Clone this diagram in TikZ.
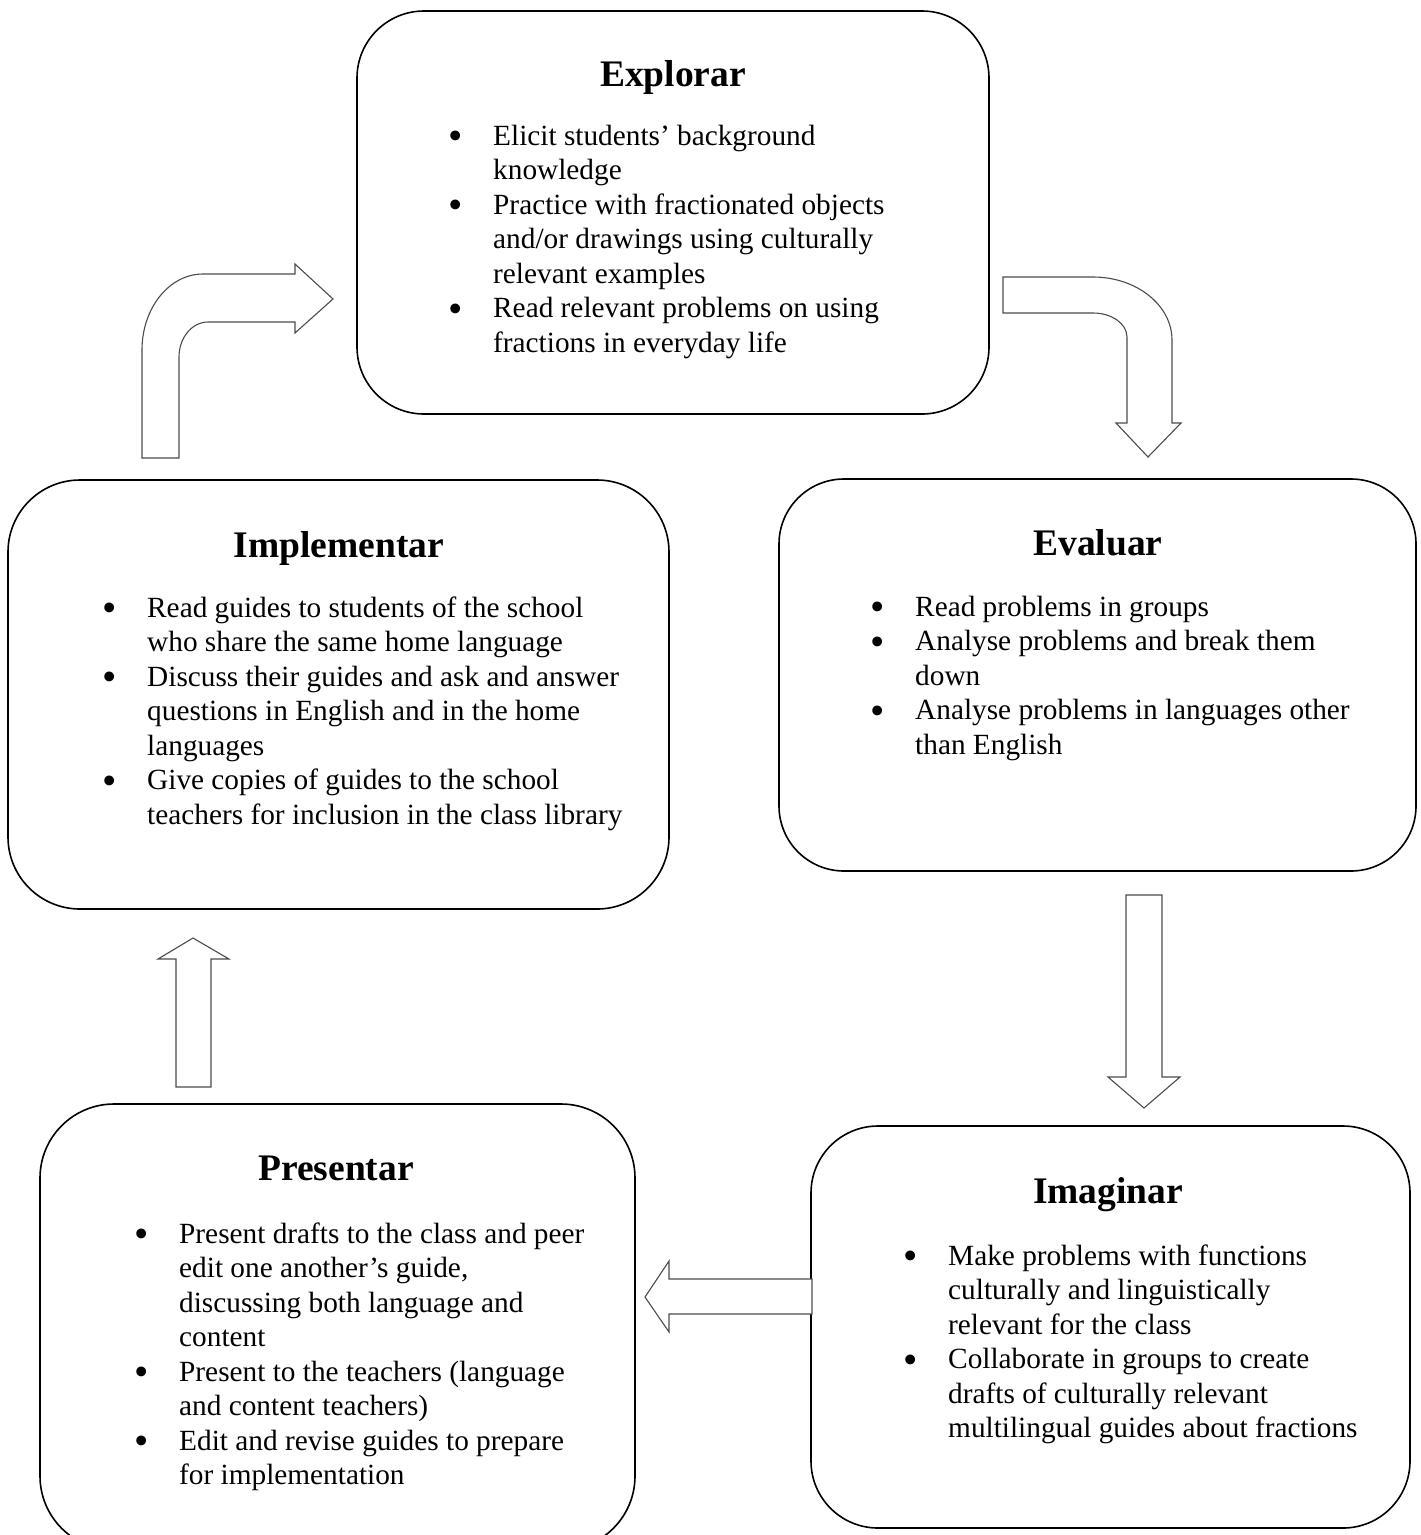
\documentclass[tikz,border=0pt]{standalone}
\usepackage{fontspec}
\setmainfont{Liberation Serif}
\tikzset{
  boxshape/.style={draw=black, line width=1.6pt, fill=white, rectangle, inner sep=0pt},
  titletext/.style={anchor=base, inner sep=0pt, font=\fontsize{37.5}{44}\selectfont\bfseries},
  listtext/.style={anchor=north west, align=left, inner sep=0pt, font=\fontsize{29.3}{34.5}\selectfont},
  blockarrow/.style={draw=black!70, line width=1.1pt, fill=white, line join=miter},
}
\newcommand\bitem{\strut\llap{\raisebox{-4.5pt}{\fontsize{41}{41}\selectfont\textbullet}\hspace{30.8pt}}}
\begin{document}
\begin{tikzpicture}[x=1pt, y=-1pt]
\useasboundingbox (0,0) rectangle (1421,1535);
\clip (0,0) rectangle (1421,1535);
\fill[white] (0,0) rectangle (1421,1535);

% boxes
\node[boxshape, minimum width=632pt, minimum height=403pt, rounded corners=67pt] (explorar) at (673,212.5) {};
\node[boxshape, minimum width=661pt, minimum height=429pt, rounded corners=72pt] (implementar) at (338.5,694.5) {};
\node[boxshape, minimum width=637pt, minimum height=392pt, rounded corners=65pt] (evaluar) at (1097.5,675) {};
\node[boxshape, minimum width=595pt, minimum height=446pt, rounded corners=74pt] (presentar) at (337.5,1327) {};
\node[boxshape, minimum width=599pt, minimum height=402pt, rounded corners=67pt] (imaginar) at (1110.5,1327) {};

% block arrows
\draw[blockarrow] (142,458) -- (142,350) .. controls (142,308) and (169.3,274) .. (203,274)
  -- (295,274) -- (295,264) -- (333,299) -- (295,333) -- (295,322) -- (208,322)
  .. controls (192,322) and (179,337.7) .. (179,357) -- (179,458) -- cycle;
\draw[blockarrow] (1003,277) -- (1093,277) .. controls (1136.6,277) and (1172,305.2) .. (1172,340)
  -- (1172,423) -- (1181,423) -- (1148,457) -- (1116,423) -- (1127,423) -- (1127,337)
  .. controls (1127,323.8) and (1111.8,313) .. (1093,313) -- (1003,313) -- cycle;
\draw[blockarrow] (1126,895) -- (1162,895) -- (1162,1077) -- (1180,1077) -- (1144,1108)
  -- (1108,1077) -- (1126,1077) -- cycle;
\draw[blockarrow] (812,1279) -- (669,1279) -- (669,1261) -- (645,1297) -- (669,1332)
  -- (669,1314) -- (812,1314) -- cycle;
\draw[blockarrow] (176,1087) -- (176,959) -- (158,959) -- (193,938) -- (229,959)
  -- (211,959) -- (211,1087) -- cycle;

% titles
\node[titletext] (t-explorar) at (673,86) {Explorar};
\node[titletext] (t-implementar) at (339,557) {Implementar};
\node[titletext] (t-evaluar) at (1098,555) {Evaluar};
\node[titletext] (t-presentar) at (336,1180) {Presentar};
\node[titletext] (t-imaginar) at (1108,1203) {Imaginar};

% lists
\node[listtext] (l-explorar) at (493,120.85) {%
\bitem Elicit students’ background\\
knowledge\\
\bitem Practice with fractionated objects\\
and/or drawings using culturally\\
relevant examples\\
\bitem Read relevant problems on using\\
fractions in everyday life};

\node[listtext] (l-implementar) at (147,592.85) {%
\bitem Read guides to students of the school\\
who share the same home language\\
\bitem Discuss their guides and ask and answer\\
questions in English and in the home\\
languages\\
\bitem Give copies of guides to the school\\
teachers for inclusion in the class library};

\node[listtext] (l-evaluar) at (915,591.85) {%
\bitem Read problems in groups\\
\bitem Analyse problems and break them\\
down\\
\bitem Analyse problems in languages other\\
than English};

\node[listtext] (l-presentar) at (179,1218.85) {%
\bitem Present drafts to the class and peer\\
edit one another’s guide,\\
discussing both language and\\
content\\
\bitem Present to the teachers (language\\
and content teachers)\\
\bitem Edit and revise guides to prepare\\
for implementation};

\node[listtext] (l-imaginar) at (948,1240.85) {%
\bitem Make problems with functions\\
culturally and linguistically\\
relevant for the class\\
\bitem Collaborate in groups to create\\
drafts of culturally relevant\\
multilingual guides about fractions};
\end{tikzpicture}
\end{document}
